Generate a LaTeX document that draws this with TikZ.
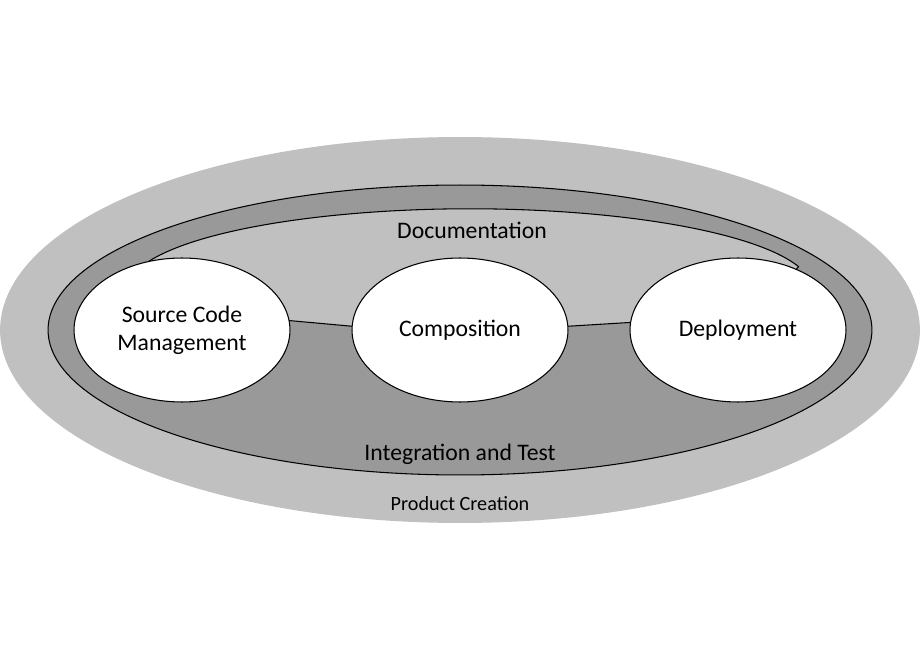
\documentclass[tikz,border=0pt]{standalone}
\usepackage{fontspec}
\setmainfont{Carlito}
\usetikzlibrary{shapes.geometric,backgrounds}
\definecolor{paleGray}{RGB}{192,192,192}
\definecolor{midGray}{RGB}{153,153,153}
\begin{document}
\begin{tikzpicture}[x=0.02cm,y=0.02cm,
  stage/.style={ellipse,draw,line width=0.6pt,fill=white,inner sep=0pt,
    minimum width=4.32cm,minimum height=2.88cm,align=center,
    font=\fontsize{13.5}{16}\selectfont},
  label/.style={font=\fontsize{13.5}{16}\selectfont}]
\useasboundingbox (0,0) rectangle (920,660);

\node[stage] (scm) at (182,330) {Source Code\\Management};
\node[stage] (comp) at (460,330) {Composition};
\node[stage] (deploy) at (738,330) {Deployment};

\begin{scope}[on background layer]
\fill[white] (0,0) rectangle (920,660);
\fill[paleGray] (460,330) ellipse [x radius=9.2cm,y radius=3.86cm];
\draw[line width=0.6pt,fill=midGray] (460,330) ellipse [x radius=8.24cm,y radius=2.9cm];
\draw[line width=0.6pt,fill=paleGray] (scm.115)
  arc [start angle=159.5,end angle=16,x radius=6.84cm,y radius=1.6cm]
  -- (deploy.center) -- (deploy.176) -- (comp.2) -- (comp.center)
  -- (comp.178) -- (scm.5) -- (scm.center) -- cycle;
\end{scope}

\node[label] (doc) at (472,430) {Documentation};
\node[label] (integ) at (460,206) {Integration and Test};
\node[font=\fontsize{11.5}{14}\selectfont] (prod) at (460,156) {Product Creation};
\end{tikzpicture}
\end{document}
